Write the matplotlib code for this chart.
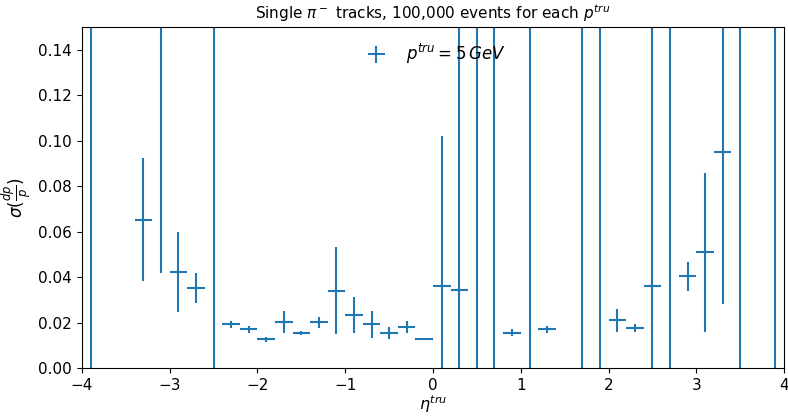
import numpy as np
import matplotlib
matplotlib.use("Agg")
import matplotlib.pyplot as plt

# bin centres (eta) and resolution values
eta = [-3.9, -3.3, -3.1, -2.9, -2.7, -2.5, -2.3, -2.1, -1.9, -1.7, -1.5, -1.3,
       -1.1, -0.9, -0.7, -0.5, -0.3, -0.1, 0.1, 0.3, 0.5, 0.7, 0.9, 1.1, 1.3,
       1.7, 1.9, 2.1, 2.3, 2.5, 2.7, 2.9, 3.1, 3.3, 3.5, 3.9]
sigma = [0.30, 0.0652, 0.20, 0.0422, 0.0352, 0.30, 0.0192, 0.0170, 0.0127, 0.0203,
         0.0155, 0.0202, 0.0341, 0.0234, 0.0193, 0.0155, 0.0180, 0.0129, 0.0363,
         0.0345, 0.30, 0.30, 0.0155, 0.30, 0.0170, 0.30, 0.30, 0.0211, 0.0175,
         0.0363, 0.30, 0.0404, 0.0510, 0.0950, 0.30, 0.30]
sigma_err = [0.40, 0.027, 0.158, 0.0175, 0.0065, 0.40, 0.0015, 0.0017, 0.0012, 0.0048,
             0.0010, 0.0024, 0.0190, 0.0079, 0.0060, 0.0027, 0.0027, 0.0005, 0.066,
             0.20, 0.40, 0.40, 0.0015, 0.40, 0.0014, 0.40, 0.40, 0.0050, 0.0017,
             0.20, 0.40, 0.0065, 0.0350, 0.067, 0.40, 0.40]
eta_half_width = 0.1

fig = plt.figure(figsize=(7.88, 4.16), dpi=100)
ax = fig.add_axes([0.104, 0.115, 0.891, 0.82])

ax.errorbar(eta, sigma, xerr=eta_half_width, yerr=sigma_err, fmt='none',
            ecolor='#1f77b4', elinewidth=1.5, label=r'$p^{tru} = 5\,GeV$')

ax.set_xlim(-4, 4)
ax.set_ylim(0, 0.15)
ax.set_xlabel(r'$\eta^{tru}$', fontsize=11.5, labelpad=0)
ax.set_ylabel(r'$\sigma(\frac{dp}{p})$', fontsize=12)
ax.set_title(r'Single $\pi^-$ tracks, 100,000 events for each $p^{tru}$', fontsize=11)
ax.tick_params(labelsize=11)
ax.legend(loc='upper center', frameon=False, fontsize=12)

fig.savefig('out.png', dpi=100)
